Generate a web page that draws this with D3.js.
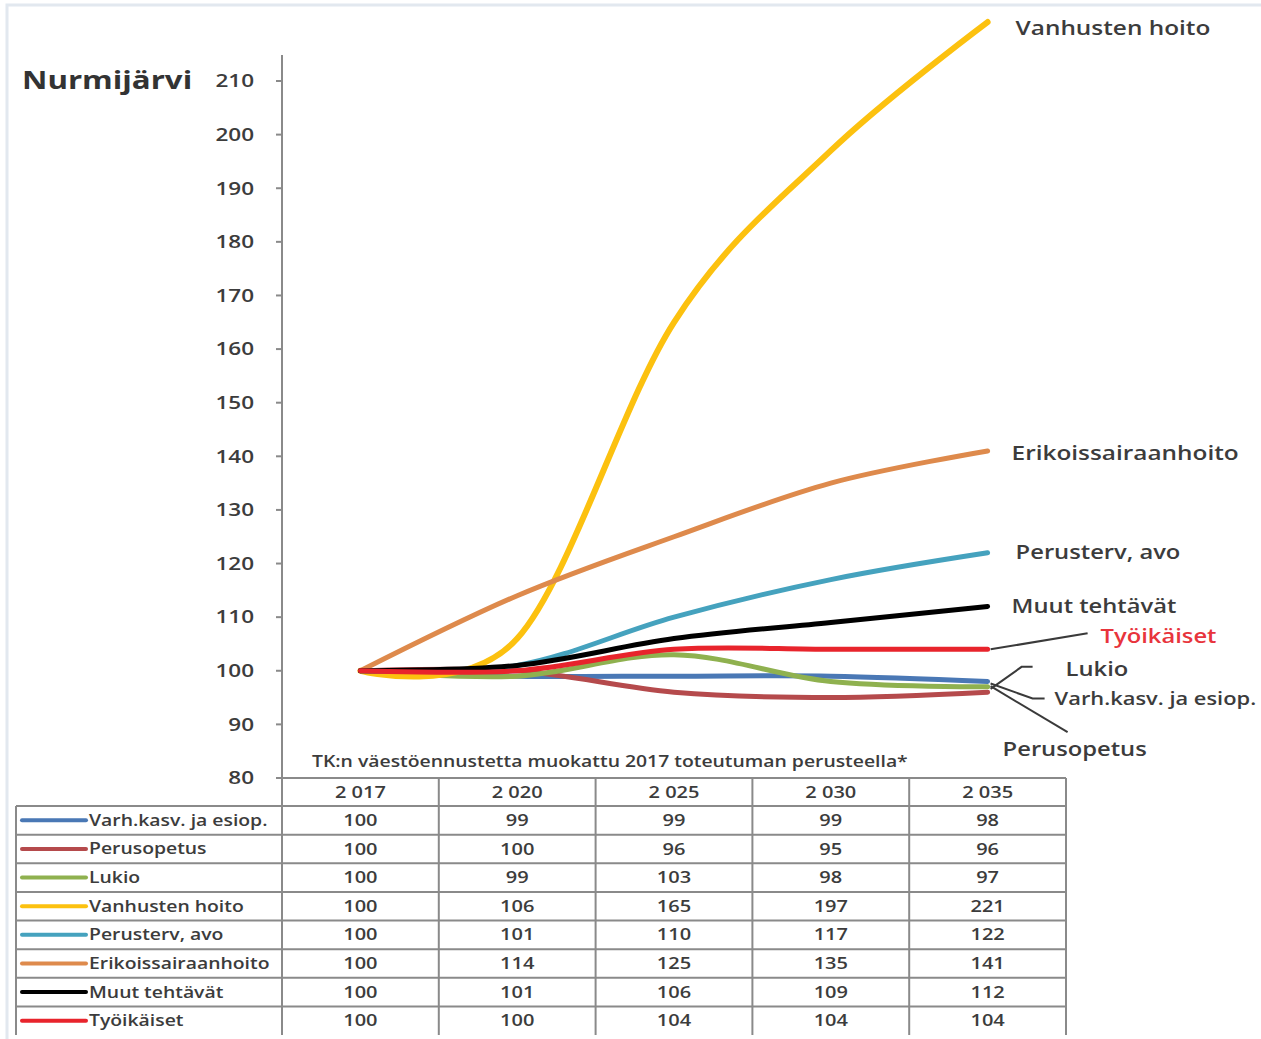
<!DOCTYPE html>
<html>
<head>
<meta charset="utf-8">
<script src="https://cdn.jsdelivr.net/npm/d3@7"></script>
<style>
  body { margin: 0; background: #fff; }
  svg { display: block; font-family: "Open Sans", sans-serif; }
</style>
</head>
<body>
<svg></svg>
<script>
// data
var years = ["2017", "2020", "2025", "2030", "2035"];
var yearLabels = ["2 017", "2 020", "2 025", "2 030", "2 035"];
var yTicks = [80, 90, 100, 110, 120, 130, 140, 150, 160, 170, 180, 190, 200, 210];

var names = ["Varh.kasv. ja esiop.", "Perusopetus", "Lukio", "Vanhusten hoito",
             "Perusterv, avo", "Erikoissairaanhoito", "Muut tehtävät", "Työikäiset"];
var varhKasv     = [100, 99, 99, 99, 98];
var perusopetus  = [100, 100, 96, 95, 96];
var lukio        = [100, 99, 103, 98, 97];
var vanhusten    = [100, 106, 165, 197, 221];
var perusterv    = [100, 101, 110, 117, 122];
var erikois      = [100, 114, 125, 135, 141];
var muut         = [100, 101, 106, 109, 112];
var tyoikaiset   = [100, 100, 104, 104, 104];
var values = [varhKasv, perusopetus, lukio, vanhusten, perusterv, erikois, muut, tyoikaiset];
var colors = ["#4a78b5", "#b54a4c", "#8fb14f", "#fcc10f", "#45a2be", "#de8a4c", "#000000", "#e8242c"];

var W = 1261, H = 1039;
var SX = 1.25; // the original picture is stretched wide
var textCol = "#3c3c3c";
var gridCol = "#8a8a8a";

var svg = d3.select("svg").attr("width", W).attr("height", H);

// light outer frame
svg.append("rect").attr("x", 7).attr("y", 5).attr("width", W).attr("height", H)
  .attr("fill", "none").attr("stroke", "#e2e8ef").attr("stroke-width", 3);

// scales
var x = d3.scaleBand().domain(years).range([282, 1066]);
var cx = function(yr) { return x(yr) + x.bandwidth() / 2; };
var y = d3.scaleLinear().domain([80, 210]).range([778, 81]);
var rows = d3.scaleBand().domain(names).range([806, 1035]);

function txt(g, px, py, str, size, anchor, fill, weight) {
  return g.append("text")
    .attr("transform", "translate(" + px + "," + py + ") scale(" + SX + ",1)")
    .attr("dy", "0.35em")
    .attr("text-anchor", anchor || "start")
    .attr("font-size", size + "px")
    .attr("font-weight", weight || 600)
    .attr("fill", fill || textCol)
    .text(str);
}

// y axis
var axis = svg.append("g");
axis.append("line").attr("x1", 282).attr("x2", 282).attr("y1", 55).attr("y2", 778)
  .attr("stroke", gridCol).attr("stroke-width", 2);
yTicks.forEach(function(t) {
  axis.append("line").attr("x1", 276).attr("x2", 282).attr("y1", y(t)).attr("y2", y(t))
    .attr("stroke", gridCol).attr("stroke-width", 2);
  txt(axis, 254, y(t), t, 18, "end");
});
txt(svg, 22, 80, "Nurmijärvi", 25, "start", "#333", "bold");

// lines
var line = d3.line()
  .x(function(d, i) { return cx(years[i]); })
  .y(function(d) { return y(d); })
  .curve(d3.curveCatmullRom.alpha(0));

svg.append("g").selectAll("path")
  .data(values)
  .enter()
  .append("path")
  .attr("d", line)
  .attr("fill", "none")
  .attr("stroke", function(d, i) { return colors[i]; })
  .attr("stroke-width", function(d, i) { return i === 3 ? 6 : 5; })
  .attr("stroke-linecap", "round");

// right labels
var lastX = cx(years[4]);
var ann = svg.append("g");
txt(ann, lastX + 28, y(vanhusten[4]) + 6, names[3], 19.5);
txt(ann, lastX + 24, y(erikois[4]) + 2, names[5], 19.5);
txt(ann, lastX + 28, y(perusterv[4]), names[4], 19);
txt(ann, lastX + 24, y(muut[4]), names[6], 19);

var leader = function(pts) {
  ann.append("path").attr("d", d3.line()(pts)).attr("fill", "none")
    .attr("stroke", "#3a3a3a").attr("stroke-width", 2);
};
var yt = y(tyoikaiset[4]);
leader([[lastX + 3, yt], [lastX + 100, yt - 16]]);
txt(ann, lastX + 113, yt - 13, names[7], 19, "start", "#e8343c");

var yl = y(lukio[4]);
leader([[lastX + 3, yl + 2], [lastX + 34, yl - 20], [lastX + 45, yl - 20]]);
txt(ann, lastX + 78, yl - 18, names[2], 19);

var yv = y(varhKasv[4]);
leader([[lastX + 3, yv + 2], [lastX + 45, yv + 17], [lastX + 57, yv + 17]]);
txt(ann, lastX + 67, yv + 17, names[0], 17.5);

var yp = y(perusopetus[4]);
leader([[lastX + 3, yp - 6], [lastX + 80, yp + 40]]);
txt(ann, lastX + 15, yp + 57, names[1], 19);

// note above the table
txt(svg, 312, 762, "TK:n väestöennustetta muokattu 2017 toteutuman perusteella*", 15.5);

// table
var tab = svg.append("g");
var gl = function(x1, y1, x2, y2) {
  tab.append("line").attr("x1", x1).attr("y1", y1).attr("x2", x2).attr("y2", y2)
    .attr("stroke", gridCol).attr("stroke-width", 2);
};
gl(282, 778, 1066, 778);
names.forEach(function(n) { gl(16, rows(n), 1066, rows(n)); });
gl(16, rows(names[0]), 16, 1035);
years.forEach(function(yr) { gl(x(yr), 778, x(yr), 1035); });
gl(1066, 778, 1066, 1035);

years.forEach(function(yr, j) {
  txt(tab, cx(yr), 792, yearLabels[j], 16, "middle");
});

names.forEach(function(n, i) {
  var ry = rows(n) + rows.bandwidth() / 2;
  tab.append("line").attr("x1", 22).attr("x2", 86).attr("y1", ry).attr("y2", ry)
    .attr("stroke", colors[i]).attr("stroke-width", 4).attr("stroke-linecap", "round");
  txt(tab, 89, ry, n, 15.5);
  values[i].forEach(function(v, j) {
    txt(tab, cx(years[j]), ry, v, 16, "middle");
  });
});
</script>
</body>
</html>
